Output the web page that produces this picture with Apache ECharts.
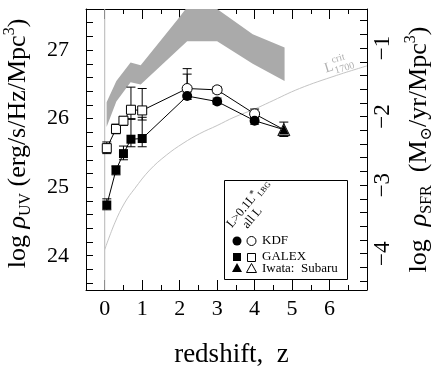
<!DOCTYPE html>
<html>
<head>
<meta charset="utf-8">
<script src="https://cdn.jsdelivr.net/npm/echarts@6/dist/echarts.min.js"></script>
<style>html,body{margin:0;padding:0;background:#fff;}#c{width:436px;height:367px;}</style>
</head>
<body>
<div id="c"></div>
<script>
// ---------------- data ----------------
const galexZ        = [0.055, 0.3, 0.5, 0.7, 1.0];
const galexBright   = [24.74, 25.25, 25.49, 25.70, 25.71];
const galexBrightLo = [24.67, 25.18, 25.40, 25.59, 25.59];
const galexBrightHi = [24.83, 25.31, 25.60, 26.00, 26.02];
const galexAll      = [25.57, 25.85, 25.97, 26.13, 26.12];
const galexAllLo    = [25.49, 25.78, 25.90, 25.99, 25.98];
const galexAllHi    = [25.66, 25.92, 26.03, 26.46, 26.44];

const kdfZ        = [2.2, 3.0, 4.0];
const kdfBright   = [26.33, 26.25, 25.97];
const kdfBrightLo = [26.28, 26.21, 25.92];
const kdfBrightHi = [26.65, 26.30, 26.02];
const kdfAll      = [26.44, 26.42, 26.07];
const kdfAllLo    = [26.39, 26.37, 26.01];
const kdfAllHi    = [26.73, 26.47, 26.14];

const iwataZ        = [4.78];
const iwataBright   = [25.84];
const iwataBrightLo = [25.74];
const iwataBrightHi = [25.95];
const iwataAll      = [25.84];

// grey band (upper and lower edges)
const bandUpperZ = [0.05, 0.31, 0.69, 0.96, 1.95, 2.16, 3.0, 3.95, 4.8];
const bandUpper  = [26.24, 26.55, 26.82, 26.78, 27.45, 27.6, 27.6, 27.23, 27.04];
const bandLowerZ = [0.05, 0.31, 0.69, 0.96, 2.2, 3.0, 3.95, 4.8];
const bandLower  = [25.88, 26.25, 26.53, 26.50, 27.13, 27.13, 26.80, 26.55];

// L_crit 1700 curve
const critZ = [0, 0.27, 0.53, 0.8, 1.2, 1.65, 2.09, 2.53, 3.0, 3.45, 4.0, 4.4, 5.2, 6.18, 7.0];
const critV = [24.09, 24.48, 24.77, 24.98, 25.25, 25.47, 25.64, 25.78, 25.90, 26.02, 26.14, 26.24, 26.44, 26.63, 26.77];

// axes
const xMin = -0.5, xMax = 7;
const yMin = 23.5, yMax = 27.6;
const sfrOffset = 28.03;           // log rho_SFR = log rho_UV - sfrOffset
const xMajorTicks = [0, 1, 2, 3, 4, 5, 6];
const xMinorTicks = [0.5, 1.5, 2.5, 3.5, 4.5, 5.5, 6.5];
const xLabels = [0, 1, 2, 3, 4, 5, 6];
const yTicks = [23.6, 23.8, 24.0, 24.2, 24.4, 24.6, 24.8, 25.0, 25.2, 25.4, 25.6, 25.8, 26.0,
                26.2, 26.4, 26.6, 26.8, 27.0, 27.2, 27.4];
const yLabels = [24, 25, 26, 27];
const sfrTicks = [-4.4, -4.2, -4.0, -3.8, -3.6, -3.4, -3.2, -3.0, -2.8, -2.6, -2.4, -2.2, -2.0,
                  -1.8, -1.6, -1.4, -1.2, -1.0, -0.8, -0.6];
const sfrLabels = [-4, -3, -2, -1];

// ---------------- chart ----------------
const FONT = "'Liberation Serif', 'DejaVu Serif', serif";
const chart = echarts.init(document.getElementById('c'), null, {renderer: 'canvas'});

const zip = (xs, ys) => xs.map((x, i) => [x, ys[i]]);
const zip3 = (xs, a, b) => xs.map((x, i) => [x, a[i], b[i]]);

const bandPoly = zip(bandUpperZ, bandUpper).concat(zip(bandLowerZ, bandLower).reverse());

const errData = [].concat(
  zip3(galexZ, galexBrightLo, galexBrightHi),
  zip3(galexZ, galexAllLo, galexAllHi),
  zip3(kdfZ, kdfBrightLo, kdfBrightHi),
  zip3(kdfZ, kdfAllLo, kdfAllHi),
  zip3(iwataZ, iwataBrightLo, iwataBrightHi)
);

const brightLine = [].concat(zip(galexZ, galexBright), zip(kdfZ, kdfBright), zip(iwataZ, iwataBright));
const allLine = [].concat(zip(galexZ, galexAll), zip(kdfZ, kdfAll), zip(iwataZ, iwataAll));

const tickStyle = {color: '#000', width: 1};
function xAx(pos, ticks, len, showLine, labels) {
  return {
    type: 'value', min: xMin, max: xMax, position: pos, gridIndex: 0,
    axisLine: {show: showLine, onZero: false, lineStyle: {color: '#000', width: 1}},
    axisTick: {show: true, inside: true, length: len, customValues: ticks, lineStyle: tickStyle},
    axisLabel: labels ? {show: true, customValues: labels, margin: 8, color: '#000',
      fontFamily: FONT, fontSize: 22} : {show: false},
    splitLine: {show: false}
  };
}
const titleRich = {
  r: {fontFamily: FONT, fontSize: 26, fontStyle: 'italic', lineHeight: 32},
  sub: {fontFamily: FONT, fontSize: 16, verticalAlign: 'bottom', lineHeight: 25},
  sup: {fontFamily: FONT, fontSize: 16, verticalAlign: 'top', lineHeight: 21}
};

const option = {
  animation: false,
  backgroundColor: '#fff',
  grid: {left: 86, top: 9, width: 281, height: 281, containLabel: false, outerBoundsMode: 'none'},
  xAxis: [
    Object.assign(xAx('bottom', xMajorTicks, 10, true, xLabels), {
      name: 'redshift,  z', nameLocation: 'middle', nameGap: 51,
      nameTextStyle: {fontFamily: FONT, fontSize: 27, color: '#000', padding: [0, 0, 0, 10]}
    }),
    xAx('bottom', xMinorTicks, 5, false, null),
    xAx('top', xMajorTicks, 10, true, null),
    xAx('top', xMinorTicks, 5, false, null)
  ],
  yAxis: [
    {
      type: 'value', min: yMin, max: yMax, position: 'left',
      axisLine: {show: true, onZero: false, lineStyle: {color: '#000', width: 1}},
      axisTick: {show: true, inside: true, length: 7, customValues: yTicks, lineStyle: tickStyle},
      axisLabel: {show: true, customValues: yLabels, margin: 17, color: '#000', fontFamily: FONT, fontSize: 22},
      splitLine: {show: false},
      name: 'log {r|ρ}{sub|UV} (erg/s/Hz/Mpc{sup|3})',
      nameLocation: 'middle', nameGap: 52, nameRotate: 90,
      nameTextStyle: {fontFamily: FONT, fontSize: 26, color: '#000', lineHeight: 32, rich: titleRich,
        padding: [0, 0, 0, 12]}
    },
    {
      type: 'value', min: yMin - sfrOffset, max: yMax - sfrOffset, position: 'right',
      axisLine: {show: true, onZero: false, lineStyle: {color: '#000', width: 1}},
      axisTick: {show: true, inside: true, length: 7, customValues: sfrTicks, lineStyle: tickStyle},
      axisLabel: {show: true, customValues: sfrLabels, rotate: 90, margin: 4, color: '#000',
        fontFamily: FONT, fontSize: 23, formatter: v => String(v).replace('-', '\u2212')},
      splitLine: {show: false},
      name: 'log  {r|ρ}{sub|SFR}  (M{sub|⊙}/yr/Mpc{sup|3})',
      nameLocation: 'middle', nameGap: 36, nameRotate: 90,
      nameTextStyle: {fontFamily: FONT, fontSize: 26, color: '#000', lineHeight: 32, rich: titleRich}
    }
  ],
  series: [
    {
      type: 'custom', name: 'band', coordinateSystem: 'cartesian2d', z: 1, silent: true,
      data: [0],
      renderItem: function (params, api) {
        const pts = bandPoly.map(p => api.coord(p));
        return {type: 'polygon', shape: {points: pts}, style: {fill: '#aaaaaa', stroke: null}};
      }
    },
    {
      type: 'line', name: 'z0', data: [[0, yMin], [0, yMax]], symbol: 'none', z: 2, silent: true,
      lineStyle: {color: '#b5b5b5', width: 1}
    },
    {
      type: 'line', name: 'crit', data: zip(critZ, critV), symbol: 'none', smooth: 0.4, z: 2, silent: true,
      lineStyle: {color: '#c4c4c4', width: 1}
    },
    {
      type: 'custom', name: 'err', z: 3, silent: true, data: errData,
      renderItem: function (params, api) {
        const x = api.value(0), lo = api.value(1), hi = api.value(2);
        const a = api.coord([x, lo]), b = api.coord([x, hi]);
        const w = 4.5;
        const st = {stroke: '#000', lineWidth: 1};
        return {type: 'group', children: [
          {type: 'line', shape: {x1: a[0], y1: a[1], x2: b[0], y2: b[1]}, style: st},
          {type: 'line', shape: {x1: a[0] - w, y1: a[1], x2: a[0] + w, y2: a[1]}, style: st},
          {type: 'line', shape: {x1: b[0] - w, y1: b[1], x2: b[0] + w, y2: b[1]}, style: st}
        ]};
      }
    },
    {type: 'line', name: 'brightLine', data: brightLine, symbol: 'none', z: 4, lineStyle: {color: '#000', width: 1}},
    {type: 'line', name: 'allLine', data: allLine, symbol: 'none', z: 4, lineStyle: {color: '#000', width: 1}},
    {type: 'scatter', name: 'GALEX all', data: zip(galexZ, galexAll), symbol: 'rect', symbolSize: 9, z: 5,
      itemStyle: {color: '#fff', borderColor: '#000', borderWidth: 1, opacity: 1}},
    {type: 'scatter', name: 'GALEX bright', data: zip(galexZ, galexBright), symbol: 'rect', symbolSize: 9, z: 5,
      itemStyle: {color: '#000', opacity: 1}},
    {type: 'scatter', name: 'KDF all', data: zip(kdfZ, kdfAll), symbol: 'circle', symbolSize: 10, z: 5,
      itemStyle: {color: '#fff', borderColor: '#000', borderWidth: 1, opacity: 1}},
    {type: 'scatter', name: 'KDF bright', data: zip(kdfZ, kdfBright), symbol: 'circle', symbolSize: 10, z: 5,
      itemStyle: {color: '#000', opacity: 1}},
    {type: 'scatter', name: 'Iwata all', data: zip(iwataZ, iwataAll), symbol: 'triangle', symbolSize: 12, z: 5,
      itemStyle: {color: '#fff', borderColor: '#000', borderWidth: 1, opacity: 1}},
    {type: 'scatter', name: 'Iwata bright', data: zip(iwataZ, iwataBright), symbol: 'triangle', symbolSize: 10, z: 6,
      itemStyle: {color: '#000', opacity: 1}}
  ],
  graphic: [
    // L_crit label
    {type: 'group', x: 325, y: 69, rotation: 0.3, silent: true, children: [
      {type: 'text', x: 0, y: 0, style: {text: 'L', fontFamily: FONT, fontSize: 14, fill: '#b0b0b0', align: 'left', verticalAlign: 'middle'}},
      {type: 'text', x: 9, y: -6, style: {text: 'crit', fontFamily: FONT, fontSize: 10, fill: '#b0b0b0', align: 'left', verticalAlign: 'middle'}},
      {type: 'text', x: 9, y: 5, style: {text: '1700', fontFamily: FONT, fontSize: 10, fill: '#b0b0b0', align: 'left', verticalAlign: 'middle'}}
    ]},
    // legend
    {type: 'rect', shape: {x: 224.5, y: 180.5, width: 123, height: 99}, style: {fill: '#fff', stroke: '#000', lineWidth: 1}, z: 10},
    {type: 'text', x: 235, y: 231, rotation: 0.88, z: 11, style: {
      text: 'L>0.1L{sup|*}{sub|LBG}', fontFamily: FONT, fontSize: 12.5, fill: '#000', align: 'left', verticalAlign: 'bottom',
      rich: {sup: {fontSize: 10, verticalAlign: 'top', lineHeight: 15, fontFamily: FONT}, sub: {fontSize: 8, verticalAlign: 'bottom', lineHeight: 15, fontFamily: FONT}}
    }},
    {type: 'text', x: 250, y: 231, rotation: 0.88, z: 11, style: {
      text: 'all L', fontFamily: FONT, fontSize: 12.5, fill: '#000', align: 'left', verticalAlign: 'bottom'
    }},
    {type: 'circle', shape: {cx: 237, cy: 241, r: 4.5}, style: {fill: '#000'}, z: 11},
    {type: 'circle', shape: {cx: 251.5, cy: 241, r: 4.5}, style: {fill: '#fff', stroke: '#000', lineWidth: 1}, z: 11},
    {type: 'rect', shape: {x: 233, y: 253, width: 8, height: 8}, style: {fill: '#000'}, z: 11},
    {type: 'rect', shape: {x: 247.5, y: 253.5, width: 8, height: 8}, style: {fill: '#fff', stroke: '#000', lineWidth: 1}, z: 11},
    {type: 'polygon', shape: {points: [[237, 263], [242, 272], [232, 272]]}, style: {fill: '#000'}, z: 11},
    {type: 'polygon', shape: {points: [[251.5, 263.5], [256.5, 272.5], [246.5, 272.5]]}, style: {fill: '#fff', stroke: '#000', lineWidth: 1}, z: 11},
    {type: 'text', x: 262, y: 241, z: 11, style: {text: 'KDF', fontFamily: FONT, fontSize: 13, fill: '#000', verticalAlign: 'middle'}},
    {type: 'text', x: 262, y: 257, z: 11, style: {text: 'GALEX', fontFamily: FONT, fontSize: 13, fill: '#000', verticalAlign: 'middle'}},
    {type: 'text', x: 262, y: 268.5, z: 11, style: {text: 'Iwata:  Subaru', fontFamily: FONT, fontSize: 13, fill: '#000', verticalAlign: 'middle'}}
  ]
};
chart.setOption(option);
</script>
</body>
</html>
